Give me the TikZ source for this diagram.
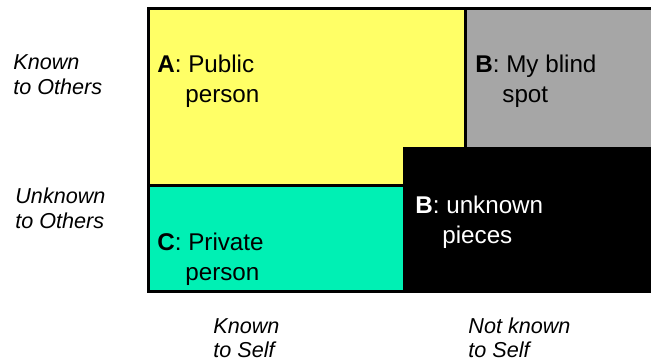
\documentclass[tikz,border=0pt]{standalone}
\usepackage{fontspec}
\setmainfont{Liberation Sans}
\definecolor{pubyellow}{HTML}{FFFF66}
\definecolor{blindgray}{HTML}{A6A6A6}
\definecolor{privteal}{HTML}{00F0B4}
\begin{document}
\begin{tikzpicture}[x=0.5pt,y=-0.5pt,
  cell/.style={draw=black,line width=1.5pt},
  lbl/.style={anchor=base west,inner sep=0pt,font=\fontsize{12.1pt}{15pt}\selectfont},
  axislbl/.style={anchor=base west,inner sep=0pt,font=\fontsize{10.8pt}{12.5pt}\selectfont\itshape}]
\clip (0,0) rectangle (651,361);
% cells
\draw[cell,fill=pubyellow] (148.5,8.5) rectangle (465,185.5);
\draw[cell,fill=blindgray] (465,8.5) rectangle (660,148);
\draw[cell,fill=privteal] (148.5,185.5) rectangle (404,291);
\draw[cell,fill=black] (404,148) rectangle (660,291);
% cell texts
\node[lbl] (a1) at (157,72) {\textbf{A}: Public};
\node[lbl] (a2) at (185,102.5) {person};
\node[lbl] (b1) at (475,72) {\textbf{B}: My blind};
\node[lbl] (b2) at (502,102.5) {spot};
\node[lbl,text=white] (u1) at (415,213) {\textbf{B}: unknown};
\node[lbl,text=white] (u2) at (442,243) {pieces};
\node[lbl] (c1) at (157,250) {\textbf{C}: Private};
\node[lbl] (c2) at (185,280) {person};
% axis labels
\node[axislbl] (ko1) at (13,69) {Known};
\node[axislbl] (ko2) at (13,94) {to Others};
\node[axislbl] (uo1) at (15,203) {Unknown};
\node[axislbl] (uo2) at (15,228) {to Others};
\node[axislbl] (ks1) at (213,333) {Known};
\node[axislbl] (ks2) at (213,357) {to Self};
\node[axislbl] (ns1) at (468,333) {Not known};
\node[axislbl] (ns2) at (468,357) {to Self};
\end{tikzpicture}
\end{document}
